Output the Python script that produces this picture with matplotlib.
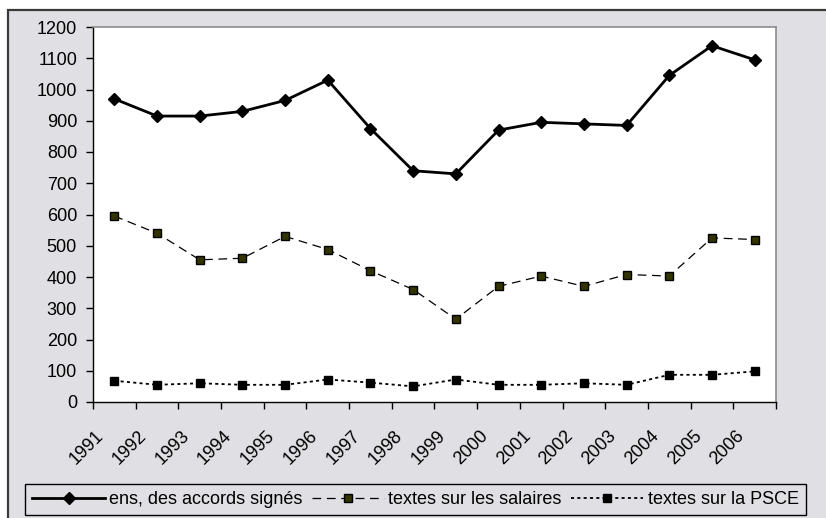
import numpy as np
import matplotlib
matplotlib.use('Agg')
import matplotlib.pyplot as plt
import matplotlib.transforms as mtransforms
from matplotlib.patches import Rectangle

plt.rcParams['font.family'] = ['Liberation Sans', 'DejaVu Sans']

# data
years = ['1991', '1992', '1993', '1994', '1995', '1996', '1997', '1998',
         '1999', '2000', '2001', '2002', '2003', '2004', '2005', '2006']
accords = [970, 915, 915, 930, 965, 1030, 875, 740,
           730, 870, 895, 890, 885, 1045, 1140, 1095]
salaires = [595, 540, 455, 460, 530, 488, 420, 360,
            265, 370, 403, 370, 408, 403, 525, 520]
psce = [68, 55, 60, 55, 55, 72, 62, 50,
        72, 55, 55, 60, 55, 87, 87, 98]

W, H = 826, 518
fig = plt.figure(figsize=(W / 100, H / 100), dpi=100, facecolor='white')

# grey chart area with dark frame (cropped on right/bottom)
bg = Rectangle((8 / W, -0.1), 1.2, 1 - 10 / H + 0.1, transform=fig.transFigure,
               facecolor='#dfdfe4', edgecolor='#3a3a3a', linewidth=1.6, zorder=-10)
fig.patches.append(bg)

ax = fig.add_axes([93 / W, 1 - 402 / H, (776 - 93) / W, (402 - 27) / H])
ax.set_facecolor('white')

x = np.arange(len(years))
ax.plot(x, accords, color='black', linewidth=2.0, marker='D', markersize=6,
        markerfacecolor='black', markeredgecolor='black',
        label='ens, des accords signés')
ax.plot(x, salaires, color='black', linewidth=0.9, linestyle=(0, (7, 4.5)),
        marker='s', markersize=6.3, markerfacecolor='#333300',
        markeredgecolor='black', markeredgewidth=1.0,
        label='textes sur les salaires')
ax.plot(x, psce, color='black', linewidth=1.3, linestyle=(0, (1.7, 1.8)),
        marker='s', markersize=6, markerfacecolor='black',
        markeredgecolor='black', label='textes sur la PSCE')

ax.set_xlim(-0.5, len(years) - 0.5)
ax.set_ylim(0, 1200)
ax.set_yticks(np.arange(0, 1201, 100))

# tick marks on category boundaries, labels at category centres
ax.set_xticks(np.arange(-0.5, len(years), 1))
ax.set_xticklabels([])
ax.set_xticks(x, minor=True)
ax.set_xticklabels(years, minor=True, rotation=45, ha='right', va='top')
ax.tick_params(axis='x', which='major', direction='out', length=5, width=1)
ax.tick_params(axis='x', which='minor', length=0, pad=18.5, labelsize=13)
ax.tick_params(axis='y', direction='out', length=5, width=1, pad=6.5,
               labelsize=13)
shift = mtransforms.ScaledTranslation(-7 / 100, 0, fig.dpi_scale_trans)
for lab in ax.get_xticklabels(minor=True):
    lab.set_transform(lab.get_transform() + shift)

for side in ['top', 'right']:
    ax.spines[side].set_color('#8c8c8c')
    ax.spines[side].set_linewidth(1.2)
for side in ['left', 'bottom']:
    ax.spines[side].set_color('black')
    ax.spines[side].set_linewidth(1.0)

leg = fig.legend(loc='center', bbox_to_anchor=(415.5 / W, 1 - 499.5 / H),
                 ncol=3, fontsize=13, frameon=True, fancybox=False,
                 edgecolor='black', facecolor='#dfdfe4', framealpha=1,
                 handlelength=4.0, handletextpad=0.25, columnspacing=0.5,
                 borderpad=0.4, borderaxespad=0)
leg.get_frame().set_linewidth(1.0)

fig.savefig('out.png', dpi=100, facecolor=fig.get_facecolor())
